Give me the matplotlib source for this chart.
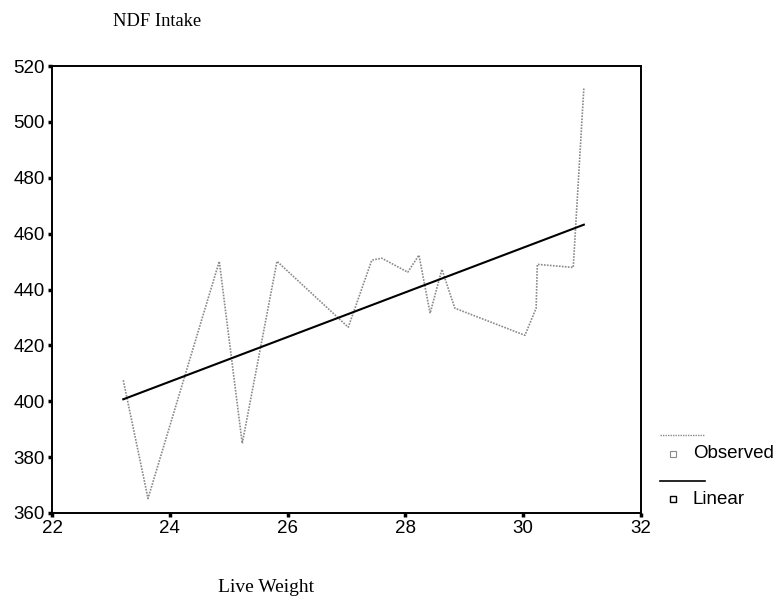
import matplotlib
matplotlib.use("Agg")
import matplotlib.pyplot as plt
from matplotlib.lines import Line2D

live_weight = [23.21, 23.63, 24.84, 25.23, 25.82, 27.03, 27.43, 27.60, 28.04,
               28.23, 28.42, 28.62, 28.84, 30.03, 30.22, 30.24, 30.85, 31.03]
ndf_intake = [407.5, 365.2, 450.1, 384.9, 450.1, 426.5, 450.5, 451.2, 446.2,
              452.3, 431.5, 447.2, 433.3, 423.6, 433.3, 449.0, 447.9, 512.1]

# linear fit line (ends)
linear_x = [23.21, 31.03]
linear_y = [400.7, 463.2]

xticks = [22, 24, 26, 28, 30, 32]
yticks = [360, 380, 400, 420, 440, 460, 480, 500, 520]

fig = plt.figure(figsize=(7.81, 6.03), dpi=100)
ax = fig.add_axes([0.0666, 0.1493, 0.7541, 0.7412])

ax.plot(live_weight, ndf_intake, color="#8a8a8a", lw=1.2, ls=(0, (1, 0.8)))
ax.plot(linear_x, linear_y, color="black", lw=1.5)

ax.set_xlim(22, 32)
ax.set_ylim(360, 520)
ax.set_xticks(xticks)
ax.set_yticks(yticks)
ax.tick_params(direction="out", length=3, width=2.5, labelsize=13.5, pad=2)
for lab in ax.get_xticklabels() + ax.get_yticklabels():
    lab.set_family("Liberation Sans")
for s in ax.spines.values():
    s.set_linewidth(1.4)

# titles in serif
fig.text(113 / 781, 1 - 22 / 603, "NDF Intake", family="Liberation Serif",
         fontsize=13.3, va="center", ha="left")
fig.text(218 / 781, 1 - 587 / 603, "Live Weight", family="Liberation Serif",
         fontsize=14, va="center", ha="left")

# legend drawn by hand, like the original
W, H = 781, 603
fig.add_artist(Line2D([660 / W, 705 / W], [1 - 435 / H] * 2, color="#8a8a8a",
                      lw=1.0, ls=(0, (1, 0.8))))
fig.add_artist(Line2D([673 / W], [1 - 454 / H], marker="s", ms=5, mfc="white",
                      mec="#8a8a8a", mew=0.8, ls="none"))
fig.text(693 / W, 1 - 454 / H, "Observed", family="Liberation Sans",
         fontsize=13.5, va="center")
fig.add_artist(Line2D([660 / W, 705 / W], [1 - 481 / H] * 2, color="black",
                      lw=1.2))
fig.add_artist(Line2D([673 / W], [1 - 499 / H], marker="s", ms=5, mfc="white",
                      mec="black", mew=1.0, ls="none"))
fig.text(693 / W, 1 - 499 / H, "Linear", family="Liberation Sans",
         fontsize=13.5, va="center")

fig.savefig("out.png", dpi=100)
